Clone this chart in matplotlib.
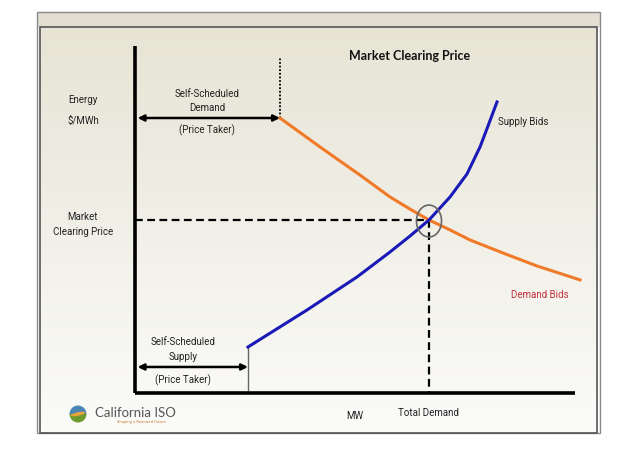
import numpy as np
import matplotlib
matplotlib.use("Agg")
import matplotlib.pyplot as plt
from matplotlib.patches import Rectangle, Ellipse, Wedge

# ---- data (arbitrary MW / price units 0-100) ----
demand_mw = [32.95, 42.05, 51.14, 57.95, 62.5, 66.82, 71.59, 76.14, 83.64, 91.36, 101.14]
demand_price = [79.25, 70.9, 62.8, 56.5, 53.0, 49.86, 47.0, 44.1, 40.35, 36.6, 32.6]
supply_mw = [25.68, 39.09, 50.45, 57.95, 62.5, 66.82, 71.59, 75.45, 78.41, 80.23, 82.27]
supply_price = [13.26, 23.92, 33.43, 40.63, 45.24, 49.86, 56.48, 63.11, 70.89, 76.95, 83.86]
clearing_mw = 66.82
clearing_price = 49.86
self_sched_demand_mw = 32.95
self_sched_supply_mw = 25.68
supply_arrow_price = 7.5
demand_dotted_top = 96.8

W, H = 641, 461
fig = plt.figure(figsize=(W / 100, H / 100), dpi=100)
fig.patch.set_facecolor("white")

NARROW = ["Roboto", "DejaVu Sans"]

# ---- background / frame axes in pixel coordinates ----
bg = fig.add_axes([0, 0, 1, 1])
bg.set_xlim(0, W)
bg.set_ylim(H, 0)
bg.axis("off")

# gradient panel
grad = np.linspace(0, 1, 256).reshape(-1, 1)
top = np.array([0.905, 0.895, 0.835])
bot = np.array([0.985, 0.985, 0.98])
img = top[None, None, :] * (1 - grad[:, :, None]) + bot[None, None, :] * grad[:, :, None]
bg.imshow(img, extent=[40, 597, 433, 27], aspect="auto", zorder=0)
# header band
bg.add_patch(Rectangle((37, 12), 563, 15, facecolor="#e2dfd2", edgecolor="none", zorder=0.5))
bg.add_patch(Rectangle((37, 12), 563, 421, facecolor="none", edgecolor="#8a8a8a", lw=1.0, zorder=1))
bg.add_patch(Rectangle((40, 27), 557, 406, facecolor="none", edgecolor="#555555", lw=1.2, zorder=1))

# logo (y axis inverted: angles 180-360 are the visual top)
bg.add_patch(Wedge((78, 414), 8.5, 180, 360, facecolor="#4a86b5", edgecolor="none", zorder=2))
bg.add_patch(Wedge((78, 414), 8.5, 0, 180, facecolor="#6d9a2c", edgecolor="none", zorder=2))
bg.add_patch(Ellipse((78, 414), 15, 3.5, angle=-12, facecolor="#e8a23a", edgecolor="none", zorder=3))
bg.text(95, 413, "California ISO", fontsize=9.5, color="#555555", family=["Lato", "DejaVu Sans"],
        va="center", ha="left", zorder=3)
bg.text(117, 421.5, "Shaping a Renewed Future", fontsize=2.6, color="#c8782a",
        va="center", ha="left", zorder=3)

# texts
tkw = dict(family=NARROW, fontsize=7, color="#222222", ha="center", va="center", zorder=3)
bg.text(83, 100, "Energy", **tkw)
bg.text(83, 121, "$/MWh", **tkw)
bg.text(83, 217, "Market", **tkw)
bg.text(83, 232, "Clearing Price", **tkw)
bg.text(207, 94, "Self-Scheduled", **tkw)
bg.text(207, 108, "Demand", **tkw)
bg.text(207, 130, "(Price Taker)", **tkw)
bg.text(183, 342, "Self-Scheduled", **tkw)
bg.text(183, 357, "Supply", **tkw)
bg.text(183, 380, "(Price Taker)", **tkw)
bg.text(523, 122, "Supply Bids", **tkw)
bg.text(540, 295, "Demand Bids", **{**tkw, "color": "#c0303a"})
bg.text(355, 416, "MW", **tkw)
bg.text(428, 413, "Total Demand", **tkw)
bg.text(410, 56, "Market Clearing Price", family=["Lato", "DejaVu Sans"], fontweight="bold",
        fontsize=9, color="#111111", ha="center", va="center", zorder=3)

# ---- chart axes ----
ax = fig.add_axes([135 / W, (H - 393) / H, 440 / W, 347 / H])
ax.set_xlim(0, 100)
ax.set_ylim(0, 100)
ax.patch.set_alpha(0)
for s in ["top", "right"]:
    ax.spines[s].set_visible(False)
for s in ["left", "bottom"]:
    ax.spines[s].set_linewidth(2.6)
    ax.spines[s].set_color("black")
    ax.spines[s].set_capstyle("butt")
ax.set_xticks([])
ax.set_yticks([])

ax.plot(demand_mw, demand_price, color="#f07a28", lw=2.2, clip_on=False, zorder=3,
        solid_joinstyle="round")
ax.plot(supply_mw, supply_price, color="#1a1ab8", lw=2.2, clip_on=False, zorder=3,
        solid_joinstyle="round")

# dashed clearing lines
ax.plot([0, clearing_mw], [clearing_price, clearing_price], color="black", lw=1.6,
        ls=(0, (3.5, 2)), zorder=2)
ax.plot([clearing_mw, clearing_mw], [clearing_price, 0], color="black", lw=1.6,
        ls=(0, (3.5, 2)), zorder=2)
ax.add_patch(Ellipse((clearing_mw, clearing_price - 0.3), 5.7, 9.2, facecolor="none",
                     edgecolor="#666666", lw=1.2, zorder=4))

# dotted line above demand start
ax.plot([self_sched_demand_mw, self_sched_demand_mw], [demand_price[0], demand_dotted_top],
        color="black", lw=1.3, ls=(0, (1, 1)), zorder=2)
# thin vertical at supply start
ax.plot([self_sched_supply_mw, self_sched_supply_mw], [supply_price[0], 0.8],
        color="#666666", lw=1.0, zorder=2)

# double arrows
ax.annotate("", xy=(0.6, demand_price[0]), xytext=(self_sched_demand_mw, demand_price[0]),
            arrowprops=dict(arrowstyle="<|-|>", color="black", lw=1.8, mutation_scale=9,
                            shrinkA=0, shrinkB=0), zorder=3)
ax.annotate("", xy=(0.6, supply_arrow_price), xytext=(self_sched_supply_mw, supply_arrow_price),
            arrowprops=dict(arrowstyle="<|-|>", color="black", lw=1.8, mutation_scale=9,
                            shrinkA=0, shrinkB=0), zorder=3)

fig.savefig("out.png", dpi=100, facecolor="white")
